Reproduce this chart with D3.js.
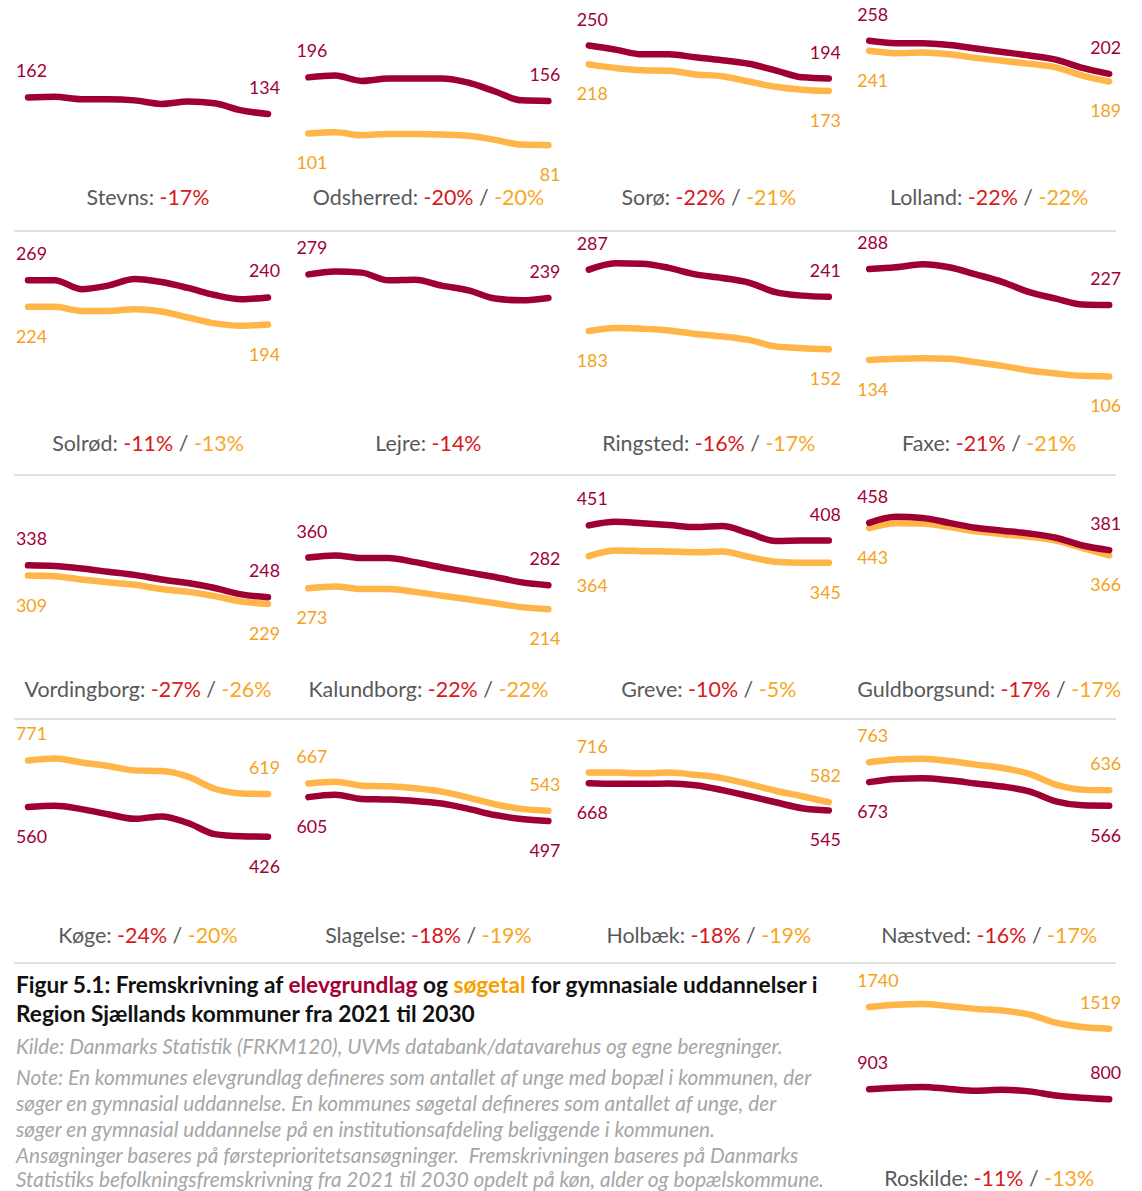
<!DOCTYPE html>
<html>
<head>
<meta charset="utf-8">
<script src="https://cdn.jsdelivr.net/npm/d3@7"></script>
<style>
  body { margin: 0; background: #ffffff; }
  svg { display: block; font-family: Lato, "Open Sans", sans-serif; }
</style>
</head>
<body>
<svg id="chart" width="1142" height="1191"></svg>
<script>
// ---------------- DATA ----------------
const years = [2021, 2022, 2023, 2024, 2025, 2026, 2027, 2028, 2029, 2030];

const kommuner = ["Stevns", "Odsherred", "Sorø", "Lolland",
                  "Solrød", "Lejre", "Ringsted", "Faxe",
                  "Vordingborg", "Kalundborg", "Greve", "Guldborgsund",
                  "Køge", "Slagelse", "Holbæk", "Næstved",
                  "Roskilde"];

// elevgrundlag (dark red) per kommune, 2021-2030
const elevgrundlag = [
  [162, 163, 159, 159, 157, 151, 155, 152, 140, 134],
  [196, 199, 190, 194, 194, 194, 187, 172, 157, 156],
  [250, 243, 235, 235, 230, 225, 219, 208, 196, 194],
  [258, 254, 254, 251, 245, 239, 233, 226, 212, 202],
  [269, 269, 254, 260, 271, 266, 256, 244, 237, 240],
  [279, 284, 282, 269, 270, 260, 252, 238, 235, 239],
  [287, 298, 297, 290, 279, 273, 265, 249, 243, 241],
  [288, 291, 296, 291, 279, 266, 249, 238, 228, 227],
  [338, 336, 329, 320, 311, 298, 288, 274, 256, 248],
  [360, 366, 359, 359, 347, 332, 318, 305, 290, 282],
  [451, 461, 457, 452, 446, 449, 429, 407, 408, 408],
  [458, 475, 472, 458, 444, 436, 428, 416, 394, 381],
  [560, 566, 551, 528, 507, 518, 488, 438, 428, 426],
  [605, 616, 597, 594, 588, 576, 552, 524, 506, 497],
  [668, 665, 665, 667, 659, 637, 610, 582, 555, 545],
  [673, 687, 690, 681, 667, 653, 631, 586, 568, 566],
  [903, 919, 926, 906, 887, 897, 881, 839, 816, 800]
];

// søgetal (orange) per kommune, 2021-2030 (null = not shown)
const soegetal = [
  null,
  [101, 103, 98, 100, 100, 99, 97, 90, 82, 81],
  [218, 212, 208, 207, 201, 198, 189, 180, 175, 173],
  [241, 237, 238, 235, 229, 224, 219, 213, 199, 189],
  [224, 224, 217, 217, 220, 216, 206, 196, 192, 194],
  null,
  [183, 188, 187, 184, 178, 174, 168, 157, 154, 152],
  [134, 136, 137, 136, 130, 124, 116, 111, 107, 106],
  [309, 307, 298, 290, 283, 271, 263, 251, 236, 229],
  [273, 278, 271, 271, 263, 252, 242, 231, 220, 214],
  [364, 380, 378, 377, 375, 377, 362, 348, 345, 345],
  [443, 457, 456, 446, 434, 426, 419, 408, 387, 366],
  [771, 780, 762, 746, 726, 723, 698, 643, 622, 619],
  [667, 675, 657, 654, 645, 630, 603, 573, 552, 543],
  [716, 716, 713, 716, 706, 691, 664, 634, 609, 582],
  [763, 775, 778, 768, 752, 737, 710, 662, 639, 636],
  [1740, 1763, 1770, 1747, 1720, 1703, 1663, 1580, 1536, 1519]
];

const pctElev = ["-17%", "-20%", "-22%", "-22%", "-11%", "-14%", "-16%", "-21%",
                 "-27%", "-22%", "-10%", "-17%", "-24%", "-18%", "-18%", "-16%", "-11%"];
const pctSoeg = [null, "-20%", "-21%", "-22%", "-13%", null, "-17%", "-21%",
                 "-26%", "-22%", "-5%", "-17%", "-20%", "-19%", "-19%", "-17%", "-13%"];

const panelRow = [0,0,0,0, 1,1,1,1, 2,2,2,2, 3,3,3,3, 4];
const panelCol = [0,1,2,3, 0,1,2,3, 0,1,2,3, 0,1,2,3, 3];
const rowMax = [300, 300, 500, 800, 1800];

const captionTitle = [
  [{t: "Figur 5.1: Fremskrivning af ", c: "k"}, {t: "elevgrundlag", c: "r"}, {t: " og ", c: "k"},
   {t: "søgetal", c: "o"}, {t: " for gymnasiale uddannelser i", c: "k"}],
  [{t: "Region Sjællands kommuner fra 2021 til 2030", c: "k"}]
];
const captionNotes = [
  "Kilde: Danmarks Statistik (FRKM120), UVMs databank/datavarehus og egne beregninger.",
  "Note: En kommunes elevgrundlag defineres som antallet af unge med bopæl i kommunen, der",
  "søger en gymnasial uddannelse. En kommunes søgetal defineres som antallet af unge, der",
  "søger en gymnasial uddannelse på en institutionsafdeling beliggende i kommunen.",
  "Ansøgninger baseres på førsteprioritetsansøgninger.  Fremskrivningen baseres på Danmarks",
  "Statistiks befolkningsfremskrivning fra 2021 til 2030 opdelt på køn, alder og bopælskommune."
];

// ---------------- STYLE / LAYOUT ----------------
const C = {
  red: "#9E0033", orange: "#FFB547",
  redLabel: "#A0003A", orangeLabel: "#F4A21C",
  pctRed: "#D71920", pctOrange: "#F8A725",
  gray: "#595959", sep: "#D9D9D9", note: "#A6A6A6", black: "#111111"
};
const rowBase = [193, 439, 685, 931, 1178];
const titleY = [205, 451, 697, 943, 1186];
const plotH = 177;
const colX0 = c => 28 + 280.4 * c;
const lineW = 240;
const sepY = [231, 475, 719, 963];
const labelsAllAbove = new Set(["Roskilde"]);

const svg = d3.select("#chart");

// font fitting helper
function fitSize(text, target, weight, style) {
  const t = svg.append("text").attr("font-size", 100)
    .attr("font-weight", weight || "normal").attr("font-style", style || "normal").text(text);
  const w = t.node().getComputedTextLength();
  t.remove();
  return 100 * target / w;
}
const labelFS = fitSize("162", 31);
const titleFS = fitSize("Stevns: -17%", 123);
const capFS = fitSize(captionTitle[0].map(d => d.t).join(""), 802, "bold");
const noteFS = fitSize(captionNotes[5], 808, "normal", "italic");

// separators
svg.append("g").selectAll("line").data(sepY).join("line")
  .attr("x1", 14).attr("x2", 1116).attr("y1", d => d).attr("y2", d => d)
  .attr("stroke", C.sep).attr("stroke-width", 1.5);

// panels
const x = d3.scaleLinear().domain([years[0], years[years.length - 1]]);

kommuner.forEach((name, i) => {
  const r = panelRow[i], c = panelCol[i];
  const x0 = colX0(c);
  const xs = x.copy().range([x0, x0 + lineW]);
  const y = d3.scaleLinear().domain([0, rowMax[r]]).range([rowBase[r], rowBase[r] - plotH]);
  const g = svg.append("g");
  const line = d3.line().x((d, j) => xs(years[j])).y(d => y(d)).curve(d3.curveMonotoneX);

  const e = elevgrundlag[i], s = soegetal[i];
  const series = [];
  if (s) series.push({vals: s, color: C.orange, lab: C.orangeLabel});
  series.push({vals: e, color: C.red, lab: C.redLabel});

  series.forEach(sr => {
    g.append("path").datum(sr.vals).attr("d", line)
      .attr("fill", "none").attr("stroke", sr.color).attr("stroke-width", 6.5)
      .attr("stroke-linecap", "round").attr("stroke-linejoin", "round");
  });

  series.forEach(sr => {
    const other = series.find(o => o !== sr);
    const above = labelsAllAbove.has(name) || !other || sr.vals[0] >= other.vals[0];
    const off = above ? -20 : 36;
    const n = sr.vals.length - 1;
    g.append("text").attr("x", xs(years[0]) - 12).attr("y", y(sr.vals[0]) + off)
      .attr("font-size", labelFS).attr("fill", sr.lab).attr("text-anchor", "start")
      .text(sr.vals[0]);
    g.append("text").attr("x", xs(years[n]) + 12).attr("y", y(sr.vals[n]) + off)
      .attr("font-size", labelFS).attr("fill", sr.lab).attr("text-anchor", "end")
      .text(sr.vals[n]);
  });

  const t = g.append("text").attr("x", x0 + lineW / 2).attr("y", titleY[r])
    .attr("text-anchor", "middle").attr("font-size", titleFS).attr("fill", C.gray);
  t.append("tspan").text(name + ": ");
  t.append("tspan").attr("fill", C.pctRed).text(pctElev[i]);
  if (pctSoeg[i]) {
    t.append("tspan").text(" / ");
    t.append("tspan").attr("fill", C.pctOrange).text(pctSoeg[i]);
  }
});

// caption
const capColors = {k: C.black, r: "#A50034", o: "#F5A000"};
const capBase = [993, 1022];
captionTitle.forEach((ln, k) => {
  const t = svg.append("text").attr("x", 16).attr("y", capBase[k])
    .attr("font-size", capFS).attr("font-weight", "bold").attr("fill", C.black);
  ln.forEach(p => t.append("tspan").attr("fill", capColors[p.c]).text(p.t));
});
const noteBase = [1054, 1085, 1111, 1137, 1163, 1187];
svg.append("g").selectAll("text").data(captionNotes).join("text")
  .attr("x", 16).attr("y", (d, k) => noteBase[k])
  .attr("font-size", noteFS).attr("font-style", "italic").attr("fill", C.note)
  .attr("xml:space", "preserve")
  .text(d => d);
</script>
</body>
</html>
